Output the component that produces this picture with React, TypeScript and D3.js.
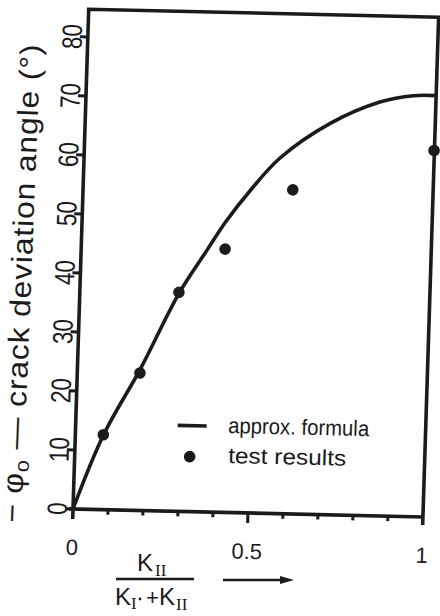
import React from "react";
import * as d3 from "d3";

// approx. formula curve
const curveX = [0, 0.08, 0.18, 0.283, 0.36, 0.41, 0.48, 0.559, 0.7, 0.84, 0.935, 1.0];
const curveY = [0, 12.6, 24.0, 36.9, 44.4, 49.2, 54.8, 60.2, 66.3, 70.1, 71.3, 71.4];

// test results
const testX = [0.08, 0.179, 0.283, 0.411, 0.599, 0.999];
const testY = [12.7, 23.3, 37.1, 44.6, 54.9, 62.1];

const yTicks = [0, 10, 20, 30, 40, 50, 60, 70, 80];
const xMinorTicks = [0.1, 0.2, 0.3, 0.4, 0.5, 0.6, 0.7, 0.8, 0.9];
const xLabelTicks = [0, 0.5, 1];
const xLabelText = ["0", "0.5", "1"];

const INK = "#1b1b1b";
const SANS = "'Liberation Sans', Arial, sans-serif";
const SERIF = "'Liberation Serif', 'Times New Roman', serif";

export default function App() {
  const plotW = 350;
  const plotH = 500;
  const x = d3.scaleLinear().domain([0, 1]).range([0, plotW]);
  const y = d3.scaleLinear().domain([0, 84.7]).range([0, -plotH]);

  const curve = curveX.map((v, i) => [v, curveY[i]] as [number, number]);
  const line = d3
    .line<[number, number]>()
    .x(d => x(d[0]))
    .y(d => y(d[1]))
    .curve(d3.curveCatmullRom.alpha(0.5));

  // the scan is slightly rotated / skewed
  const skew = "matrix(0.99974,0.02269,-0.03141,0.99951,73,509)";

  return (
    <svg
      width={440}
      height={616}
      style={{ position: "absolute", left: 0, top: 0, background: "#fff" }}
      fontFamily={SANS}
    >
      <rect width={440} height={616} fill="#fff" />

      {/* y axis title */}
      <text
        transform="translate(31,284) rotate(-87.7) scale(1.1,1)"
        textAnchor="middle"
        fontSize={29}
        fill={INK}
        textLength={435}
        lengthAdjust="spacing"
      >
        − φ<tspan fontSize={20} dy={5}>o</tspan>
        <tspan dy={-5}> — crack deviation angle (°)</tspan>
      </text>

      <g transform={skew}>
        {/* frame */}
        <path
          d={`M${x(0)},${10} V${y(84.7)} H${x(1)} V${8} M${x(0) - 4},${y(0)} H${x(1)}`}
          fill="none"
          stroke={INK}
          strokeWidth={3.6}
        />

        {/* y ticks and labels */}
        {yTicks.map(t => (
          <g key={"y" + t}>
            <line x1={-8} x2={0} y1={y(t)} y2={y(t)} stroke={INK} strokeWidth={3} />
            <text
              transform={`translate(-6,${y(t)}) rotate(-90) scale(0.8,1)`}
              textAnchor="middle"
              fontSize={28}
              fill={INK}
            >
              {t}
            </text>
          </g>
        ))}

        {/* x ticks */}
        {xMinorTicks.map(t => (
          <line
            key={"x" + t}
            x1={x(t)}
            x2={x(t)}
            y1={0}
            y2={t === 0.5 ? 10 : 5}
            stroke={INK}
            strokeWidth={3}
          />
        ))}
        {xLabelTicks.map((t, i) => (
          <text key={"xl" + t} x={x(t)} y={46} textAnchor="middle" fontSize={22} fill={INK}>
            {xLabelText[i]}
          </text>
        ))}

        {/* approx. formula */}
        <path d={line(curve) ?? ""} fill="none" stroke={INK} strokeWidth={3.6} />

        {/* test results */}
        {testX.map((v, i) => (
          <circle key={"p" + i} cx={x(v)} cy={y(testY[i])} r={5.8} fill={INK} />
        ))}

        {/* legend */}
        <line x1={102} x2={131} y1={-86} y2={-86} stroke={INK} strokeWidth={3.6} />
        <text x={152.5} y={-79.5} fontSize={22} fill={INK} textLength={141} lengthAdjust="spacingAndGlyphs">
          approx. formula
        </text>
        <circle cx={115} cy={-55} r={5.8} fill={INK} />
        <text x={153.5} y={-49.5} fontSize={22} fill={INK} textLength={118} lengthAdjust="spacingAndGlyphs">
          test results
        </text>
      </g>

      {/* x axis title */}
      <text x={137} y={571} fontSize={24} fill={INK}>
        K
      </text>
      <text x={155} y={576} fontSize={17} fontFamily={SERIF} fill={INK}>
        II
      </text>
      <line x1={116} x2={194} y1={579} y2={579} stroke={INK} strokeWidth={2.6} />
      <text x={115} y={605} fontSize={24} fill={INK}>
        K
      </text>
      <text x={131} y={609} fontSize={17} fontFamily={SERIF} fill={INK}>
        I
      </text>
      <circle cx={140} cy={599} r={1.4} fill={INK} />
      <text x={146} y={605} fontSize={22} fill={INK}>
        +
      </text>
      <text x={159} y={605} fontSize={24} fill={INK}>
        K
      </text>
      <text x={176} y={610} fontSize={17} fontFamily={SERIF} fill={INK}>
        II
      </text>
      <line x1={223} x2={283} y1={580} y2={580} stroke={INK} strokeWidth={2.6} />
      <path d="M280,576 L294,580 L280,584 Z" fill={INK} />
    </svg>
  );
}
